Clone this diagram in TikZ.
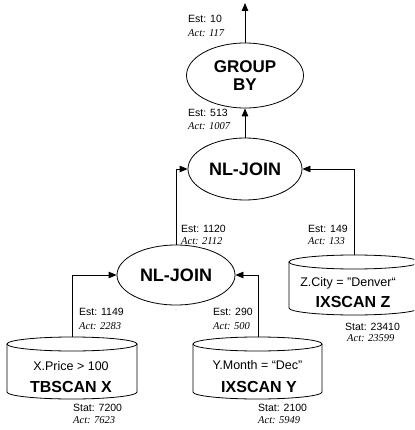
\documentclass[tikz,border=0pt]{standalone}
\usepackage{fontspec}
\setmainfont{Liberation Sans}
\newfontfamily\tms{Liberation Serif}
\usetikzlibrary{shapes.geometric,arrows.meta}
\newcommand\drawcyl[4]{%
  \draw[cylline] (#1-#2,#3) -- (#1-#2,#4) arc[start angle=180,end angle=0,x radius=#2,y radius=7] -- (#1+#2,#3);
  \draw[cylline] (#1,#3) ellipse [x radius=#2,y radius=7];}
\tikzset{
  lbl/.style={font=\fontsize{10.5}{12}\selectfont, anchor=west, inner sep=0pt},
  actlbl/.style={font=\tms\itshape\fontsize{10.5}{12}\selectfont, anchor=west, inner sep=0pt},
  opnode/.style={ellipse, draw, line width=0.8pt, inner sep=0pt, align=center, font=\bfseries\fontsize{18}{18}\selectfont},
  cond/.style={font=\fontsize{12.5}{14}\selectfont, inner sep=0pt},
  cname/.style={font=\bfseries\fontsize{16}{18}\selectfont, inner sep=0pt},
  cylline/.style={line width=0.8pt},
  conn/.style={draw, line width=0.8pt, -{Triangle[length=8pt,width=6.5pt]}}
}
\begin{document}
\begin{tikzpicture}[x=1pt,y=-1pt]
\clip (0,0) rectangle (414,430);
\fill[white] (0,0) rectangle (414,430);
% operators
\node[opnode, minimum width=117pt, minimum height=65pt, font=\bfseries\fontsize{17}{18}\selectfont] (GB) at (245,75.5) {GROUP\\BY};
\node[opnode, minimum width=114pt, minimum height=62pt] (J1) at (245,169) {NL-JOIN};
\node[opnode, minimum width=118pt, minimum height=60pt] (J2) at (176,275) {NL-JOIN};
\coordinate (out) at (245,3);
% cylinders
\drawcyl{72}{65}{344}{392}
\drawcyl{257.5}{64.5}{344}{392}
\drawcyl{354}{65}{262}{308}
\coordinate (Xtop) at (72,337);
\coordinate (Ytop) at (258,337);
\coordinate (Ztop) at (354,255);
\node[cond] (Xc) at (71,366) {X.Price > 100};
\node[cname] (Xn) at (71,387) {TBSCAN X};
\node[cond] (Yc) at (257.5,365) {Y.Month = “Dec”};
\node[cname] (Yn) at (259,387) {IXSCAN Y};
\node[cond] (Zc) at (348,283) {Z.City = "Denver“};
\node[cname] (Zn) at (353,302) {IXSCAN Z};
% connectors
\draw[conn] (GB.north) -- (out);
\draw[conn] (J1.north) -- (GB.south);
\draw[conn] (J2.north) |- (J1.west);
\draw[conn] (Ztop) |- (J1.east);
\draw[conn] (Xtop) |- (J2.west);
\draw[conn] (Ytop) |- (J2.east);
% labels
\node[lbl] (e1) at (188,19) {Est: 10};
\node[actlbl] (a1) at (188,33) {Act: 117};
\node[lbl] (e2) at (188,113) {Est: 513};
\node[actlbl] (a2) at (188,126) {Act: 1007};
\node[lbl] (e3) at (181,229) {Est: 1120};
\node[actlbl] (a3) at (181,241) {Act: 2112};
\node[lbl] (e4) at (308,229) {Est: 149};
\node[actlbl] (a4) at (308,241) {Act: 133};
\node[lbl] (e5) at (79,312) {Est: 1149};
\node[actlbl] (a5) at (79,326) {Act: 2283};
\node[lbl] (e6) at (213,312) {Est: 290};
\node[actlbl] (a6) at (213,326) {Act: 500};
\node[lbl] (s1) at (73,408) {Stat: 7200};
\node[actlbl] (sa1) at (73,420) {Act: 7623};
\node[lbl] (s2) at (258,408) {Stat: 2100};
\node[actlbl] (sa2) at (258,420) {Act: 5949};
\node[lbl] (s3) at (345,327) {Stat: 23410};
\node[actlbl] (sa3) at (347,338) {Act: 23599};
\end{tikzpicture}
\end{document}
